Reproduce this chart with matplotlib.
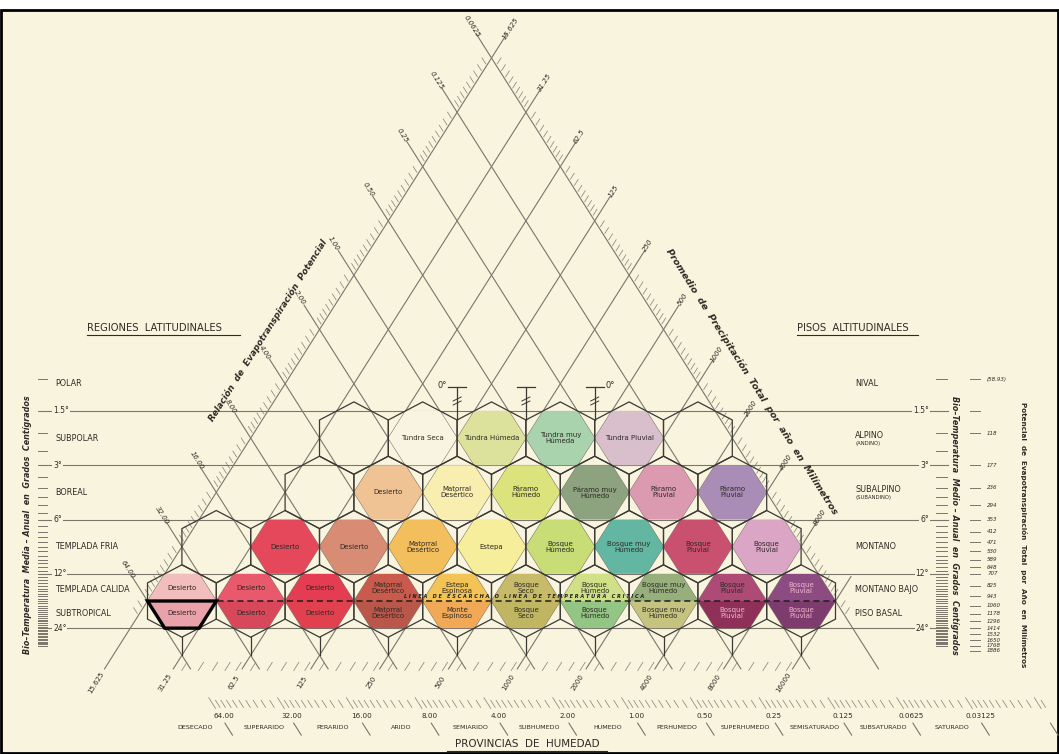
import numpy as np
import matplotlib
matplotlib.use("Agg")
import matplotlib.pyplot as plt
from matplotlib.patches import Polygon, Rectangle

# ---------------- data ----------------
pet_ratio_labels = ["0.0625", "0.125", "0.25", "0.50", "1.00", "2.00", "4.00",
                    "8.00", "16.00", "32.00", "64.00"]
precip_labels = ["15.625", "31.25", "62.5", "125", "250", "500", "1000",
                 "2000", "4000", "8000", "16000"]
bottom_ratio_values = [64, 32, 16, 8, 4, 2, 1, 0.5, 0.25, 0.125, 0.0625, 0.03125]
bottom_ratio_labels = ["64.00", "32.00", "16.00", "8.00", "4.00", "2.00", "1.00",
                       "0.50", "0.25", "0.125", "0.0625", "0.03125"]
humidity_provinces = ["DESECADO", "SUPERARIDO", "PERARIDO", "ARIDO", "SEMIARIDO",
                      "SUBHUMEDO", "HUMEDO", "PERHUMEDO", "SUPERHUMEDO",
                      "SEMISATURADO", "SUBSATURADO", "SATURADO"]
temp_lines = [1.5, 3, 6, 12, 24]
temp_line_labels = ["1.5°", "3°", "6°", "12°", "24°"]
latitudinal = ["POLAR", "SUBPOLAR", "BOREAL", "TEMPLADA FRIA", "TEMPLADA CALIDA", "SUBTROPICAL"]
altitudinal = ["NIVAL", "ALPINO", "SUBALPINO", "MONTANO", "MONTANO BAJO", "PISO BASAL"]
altitudinal_sub = ["", "(ANDINO)", "(SUBANDINO)", "", "", ""]
pet_temps = [1, 2, 3, 4, 5, 6, 7, 8, 9, 10, 11, 12, 14, 16, 18, 20, 22, 24, 26, 28, 30, 32]
pet_mm = ["(58.93)", "118", "177", "236", "294", "353", "412", "471", "530", "589", "648",
          "707", "825", "943", "1060", "1178", "1296", "1414", "1532", "1650", "1768", "1886"]

subpolar_zones = ["", "", "Tundra Seca", "Tundra Húmeda", "Tundra muy\nHúmeda", "Tundra Pluvial", ""]
subpolar_colors = [None, None, "#F9F4E1", "#DCE29B", "#A9D3AD", "#D9BFCB", None]
boreal_zones = ["", "", "Desierto", "Matorral\nDesértico", "Páramo\nHúmedo",
                "Páramo muy\nHúmedo", "Páramo\nPluvial", "Páramo\nPluvial"]
boreal_colors = [None, None, "#F0C394", "#F8EEB0", "#DCE27C", "#8DA27F", "#DC9AB0", "#A98DB6"]
fria_zones = ["", "Desierto", "Desierto", "Matorral\nDesértico", "Estepa", "Bosque\nHúmedo",
              "Bosque muy\nHúmedo", "Bosque\nPluvial", "Bosque\nPluvial"]
fria_colors = [None, "#E5475B", "#D98C74", "#F2BF5C", "#F7EE9C", "#C8DD76", "#63B7A2",
               "#C9506F", "#DBA6C6"]
calida_zones = ["Desierto", "Desierto", "Desierto", "Matorral\nDesértico", "Estepa\nEspinosa",
                "Bosque\nSeco", "Bosque\nHúmedo", "Bosque muy\nHúmedo", "Bosque\nPluvial",
                "Bosque\nPluvial"]
calida_colors = ["#F1BDBD", "#E8596B", "#E43D52", "#C95A4C", "#F3C455", "#C7BA68",
                 "#D0E086", "#96AF7B", "#AE4A76", "#8C4C82"]
subtropical_zones = ["Desierto", "Desierto", "Desierto", "Matorral\nDesértico", "Monte\nEspinoso",
                     "Bosque\nSeco", "Bosque\nHúmedo", "Bosque muy\nHúmedo", "Bosque\nPluvial",
                     "Bosque\nPluvial"]
subtropical_colors = ["#EAA2AA", "#D9475B", "#E1404F", "#B9574B", "#F2A957", "#C0B560",
                      "#93C684", "#C6C380", "#8E3058", "#7E3B6D"]

# ---------------- figure ----------------
W, H = 1059, 754
fig = plt.figure(figsize=(W / 100, H / 100), dpi=100)
fig.patch.set_facecolor("white")
ax = fig.add_axes([0, 0, 1, 1])
ax.set_xlim(0, W)
ax.set_ylim(H, 0)
ax.axis("off")
plt.rcParams["font.family"] = ["DejaVu Sans"]

BG = "#F9F4DE"
ax.add_patch(Rectangle((1, 10), W - 2, H - 11, facecolor=BG, edgecolor="black", lw=2, zorder=0))

AX0, AY0, DX, DY = 491.5, 58.0, 34.4, 54.3
ANG = np.degrees(np.arctan2(DY, DX))
SEG = np.hypot(DX, DY)
GRID = "#7a766c"
TICK = "#8c887c"
TXT = "#2e2a26"


def pt(level, off):
    return AX0 + DX * off, AY0 + DY * level


def seg(p0, p1, **kw):
    ax.plot([p0[0], p1[0]], [p0[1], p1[1]], **kw)


def ytemp(t):
    return AY0 + DY * (6.5 + np.log2(t / 1.5))


# ---------------- guide lines ----------------
E, LEND = 0.45, 11.25
for k in range(11):
    seg(pt(k - E, -k - E), pt(LEND, LEND - 2 * k), color=GRID, lw=0.8, zorder=1)
    seg(pt(k - E, k + E), pt(LEND, 2 * k - LEND), color=GRID, lw=0.8, zorder=1)

for k, lab in enumerate(pet_ratio_labels):
    x, y = pt(k - 0.58, -k - 0.58)
    ax.text(x, y, lab, rotation=-ANG, rotation_mode="anchor", ha="center", va="center",
            fontsize=5, style="italic", color=TXT)
for k, lab in enumerate(precip_labels[:10]):
    x, y = pt(k - 0.55, k + 0.55)
    ax.text(x, y, lab, rotation=ANG, rotation_mode="anchor", ha="center", va="center",
            fontsize=5, style="italic", color=TXT)
for k, lab in enumerate(precip_labels):
    x, y = pt(11.5, 2 * k - 11.5)
    ax.text(x, y, lab, rotation=ANG, rotation_mode="anchor", ha="center", va="center",
            fontsize=5, color=TXT)

# minor hatch ticks
fracs = np.log2(1 + np.arange(1, 10) / 10.0)
s1, s2 = 2 / SEG, 9 / SEG
for ki in range(11):
    for f in fracs:
        t = ki + f
        if t > 10.3:
            continue
        seg(pt(t - s1, -t - s1), pt(t - s2, -t - s2), color=TICK, lw=0.55, zorder=1)
        seg(pt(t - s1, t + s1), pt(t - s2, t + s2), color=TICK, lw=0.55, zorder=1)
# precipitation ticks at bottom
for ki in range(1, 11):
    for f in fracs[::2]:
        kk = ki + f
        if kk > 10:
            continue
        seg(pt(11.13, 2 * kk - 11.13), pt(11.28, 2 * kk - 11.28), color=TICK, lw=0.55, zorder=1)

# bottom ratio axis
for ki in range(-3, 11):
    for f in np.concatenate([[0.0], fracs]):
        kk = ki + f
        x, _ = pt(11.9, 11.9 - 2 * kk)
        if x < 205 or x > 1045:
            continue
        lo, hi = (11.78, 11.98) if f == 0 else (11.83, 11.96)
        seg(pt(lo, lo - 2 * kk), pt(hi, hi - 2 * kk), color=TICK, lw=0.55, zorder=1)
kvals = [int(round(np.log2(v / 0.0625))) for v in bottom_ratio_values]
for kk, lab in zip(kvals, bottom_ratio_labels):
    x, y = pt(12.12, 12.12 - 2 * kk)
    ax.text(x + 3, y, lab, ha="center", va="center", fontsize=5.2, color=TXT)
for kk in kvals + [kvals[-1] - 1]:
    seg(pt(12.25, 12.25 - 2 * kk), pt(12.47, 12.47 - 2 * kk), color=GRID, lw=0.8, zorder=1)
for kk, name in zip(kvals, humidity_provinces):
    x, y = pt(12.33, 12.33 - 2 * kk - 1)
    ax.text(x + 2, y, name, ha="center", va="center", fontsize=4.6, color=TXT)
ax.text(527, 744, "PROVINCIAS  DE  HUMEDAD", ha="center", va="center", fontsize=7.5, color=TXT)
seg((447, 751), (607, 751), color=TXT, lw=0.8)

# ---------------- temperature lines ----------------
for t, lab in zip(temp_lines, temp_line_labels):
    y = ytemp(t)
    seg((40, y), (948, y), color=GRID, lw=0.8, zorder=1)
    ax.text(53, y, lab, ha="left", va="center", fontsize=5.5, color=TXT, zorder=2,
            bbox=dict(facecolor=BG, edgecolor="none", pad=0.6))
    ax.text(929, y, lab, ha="right", va="center", fontsize=5.5, color=TXT, zorder=2,
            bbox=dict(facecolor=BG, edgecolor="none", pad=0.6))

ticks_t = [1.0] + list(np.arange(1.5, 30.01, 0.5))
for t in ticks_t:
    y = ytemp(t)
    seg((38, y), (47, y), color=GRID, lw=0.7)
    seg((936, y), (947, y), color=GRID, lw=0.7)
for t in [1.5] + pet_temps:
    y = ytemp(t)
    seg((970, y), (980, y), color=GRID, lw=0.7)
for t, lab in zip(pet_temps, pet_mm):
    ax.text(987, ytemp(t), lab, ha="left", va="center", fontsize=4, style="italic", color=TXT)

# region labels
lat_y = [pt(6, 0)[1], pt(7, 0)[1], pt(8, 0)[1], pt(9, 0)[1], pt(10, 0)[1] - 12, pt(10, 0)[1] + 12]
for lab, y in zip(latitudinal, lat_y):
    ax.text(55, y, lab, ha="left", va="center", fontsize=5.8, color=TXT)
for lab, sub, y in zip(altitudinal, altitudinal_sub, lat_y):
    if sub:
        ax.text(855, y - 3, lab, ha="left", va="center", fontsize=5.8, color=TXT)
        ax.text(856, y + 5, sub, ha="left", va="center", fontsize=3.8, color=TXT)
    else:
        ax.text(855, y, lab, ha="left", va="center", fontsize=5.8, color=TXT)

ax.text(87, 328, "REGIONES  LATITUDINALES", ha="left", va="center", fontsize=7.2, color=TXT)
seg((87, 335), (240, 335), color=TXT, lw=0.8)
ax.text(797, 328, "PISOS  ALTITUDINALES", ha="left", va="center", fontsize=7.2, color=TXT)
seg((797, 335), (918, 335), color=TXT, lw=0.8)

ax.text(28, 525, "Bio–Temperatura  Media – Anual  en  Grados  Centígrados", rotation=90,
        ha="center", va="center", fontsize=5.8, weight="bold", style="italic", color=TXT)
ax.text(955, 525, "Bio–Temperatura  Medio – Anual  en  Grados  Centígrados", rotation=-90,
        ha="center", va="center", fontsize=5.8, weight="bold", style="italic", color=TXT)
ax.text(1024, 535, "Potencial  de  Evapotranspiración  Total  por  Año  en  Milímetros",
        rotation=-90, ha="center", va="center", fontsize=5.2, weight="bold", color=TXT)
ax.text(268, 330, "Relación  de  Evapotranspiración  Potencial", rotation=ANG,
        rotation_mode="anchor", ha="center", va="center", fontsize=6.3, weight="bold",
        style="italic", color=TXT)
ax.text(752, 382, "Promedio  de  Precipitación  Total  por  año  en  Milímetros", rotation=-ANG,
        rotation_mode="anchor", ha="center", va="center", fontsize=6.8, weight="bold",
        style="italic", color=TXT)

# ---------------- hexagons ----------------
R = DY * 2 / 3
OUT = "#3b3a36"


def outline(cx, cy):
    pts = [(cx, cy - R), (cx + DX, cy - R / 2), (cx + DX, cy + R / 2), (cx, cy + R),
           (cx - DX, cy + R / 2), (cx - DX, cy - R / 2)]
    ax.add_patch(Polygon(pts, closed=True, fill=False, edgecolor=OUT, lw=0.9, zorder=4))


def hexfill(cx, cy, color, part="full"):
    full = [(cx - DX, cy), (cx - DX / 2, cy - DY / 2), (cx + DX / 2, cy - DY / 2), (cx + DX, cy),
            (cx + DX / 2, cy + DY / 2), (cx - DX / 2, cy + DY / 2)]
    if part == "upper":
        pts = full[:4]
    elif part == "lower":
        pts = [full[0], full[3], full[4], full[5]]
    else:
        pts = full
    ax.add_patch(Polygon(pts, closed=True, facecolor=color, edgecolor="none", zorder=3))


def label_color(c):
    r, g, b = matplotlib.colors.to_rgb(c)
    return "#F0B8CF" if (0.299 * r + 0.587 * g + 0.114 * b) < 0.42 else TXT


rows = [(7, subpolar_zones, subpolar_colors, range(1, 7)),
        (8, boreal_zones, boreal_colors, range(1, 8)),
        (9, fria_zones, fria_colors, range(0, 9))]
for k, zones, colors, outl in rows:
    for j in range(k):
        cx, cy = pt(k, 2 * j - k + 1)
        if colors[j] is not None:
            hexfill(cx, cy, colors[j])
            ax.text(cx, cy, zones[j], ha="center", va="center", fontsize=5,
                    color=label_color(colors[j]), zorder=6, linespacing=1.0)
        if j in outl:
            outline(cx, cy)

k = 10
for j in range(k):
    cx, cy = pt(k, 2 * j - k + 1)
    hexfill(cx, cy, calida_colors[j], "upper")
    hexfill(cx, cy, subtropical_colors[j], "lower")
    ax.text(cx, cy - 13, calida_zones[j], ha="center", va="center", fontsize=5,
            color=label_color(calida_colors[j]), zorder=6, linespacing=1.0)
    ax.text(cx, cy + 12, subtropical_zones[j], ha="center", va="center", fontsize=5,
            color=label_color(subtropical_colors[j]), zorder=6, linespacing=1.0)
    outline(cx, cy)
    seg((cx, cy + R), (cx, pt(11, 0)[1]), color=OUT, lw=0.9, zorder=4)

# frost line
y10 = pt(10, 0)[1]
seg(pt(10, -10), pt(10, 10), color="#1e1e1e", lw=1.1, ls=(0, (4, 2.5)), zorder=7)
ax.text(524, y10 - 5, "L I N E A   D E   E S C A R C H A   O   L I N E A   D E   T E M P E R A T U R A   C R I T I C A",
        ha="center", va="center", fontsize=3.6, weight="bold", style="italic",
        color="#1e1e1e", zorder=7)

# highlighted trapezoid
cx, cy = pt(10, -9)
ax.add_patch(Polygon([(cx - DX, cy), (cx + DX, cy), (cx + DX / 2, cy + DY / 2), (cx - DX / 2, cy + DY / 2)],
                     closed=True, fill=False, edgecolor="black", lw=2.4, zorder=8))

# 0 degree markers
ytop = 387
for off in (-1, 1, 3):
    x, yv = pt(7, off)
    seg((x, yv - R / 2), (x, ytop), color=OUT, lw=0.9, zorder=4)
    seg((x - 9, ytop), (x + 9, ytop), color=OUT, lw=0.9, zorder=4)
    for dy in (-2, 2):
        seg((x - 4, 401 + dy + 2), (x + 4, 401 + dy - 2), color=OUT, lw=0.7, zorder=4)
ax.text(447, ytop - 1, "0°", ha="right", va="center", fontsize=6, color=TXT)
ax.text(605, ytop - 1, "0°", ha="left", va="center", fontsize=6, color=TXT)

fig.savefig("out.png", dpi=100, facecolor=fig.get_facecolor())
